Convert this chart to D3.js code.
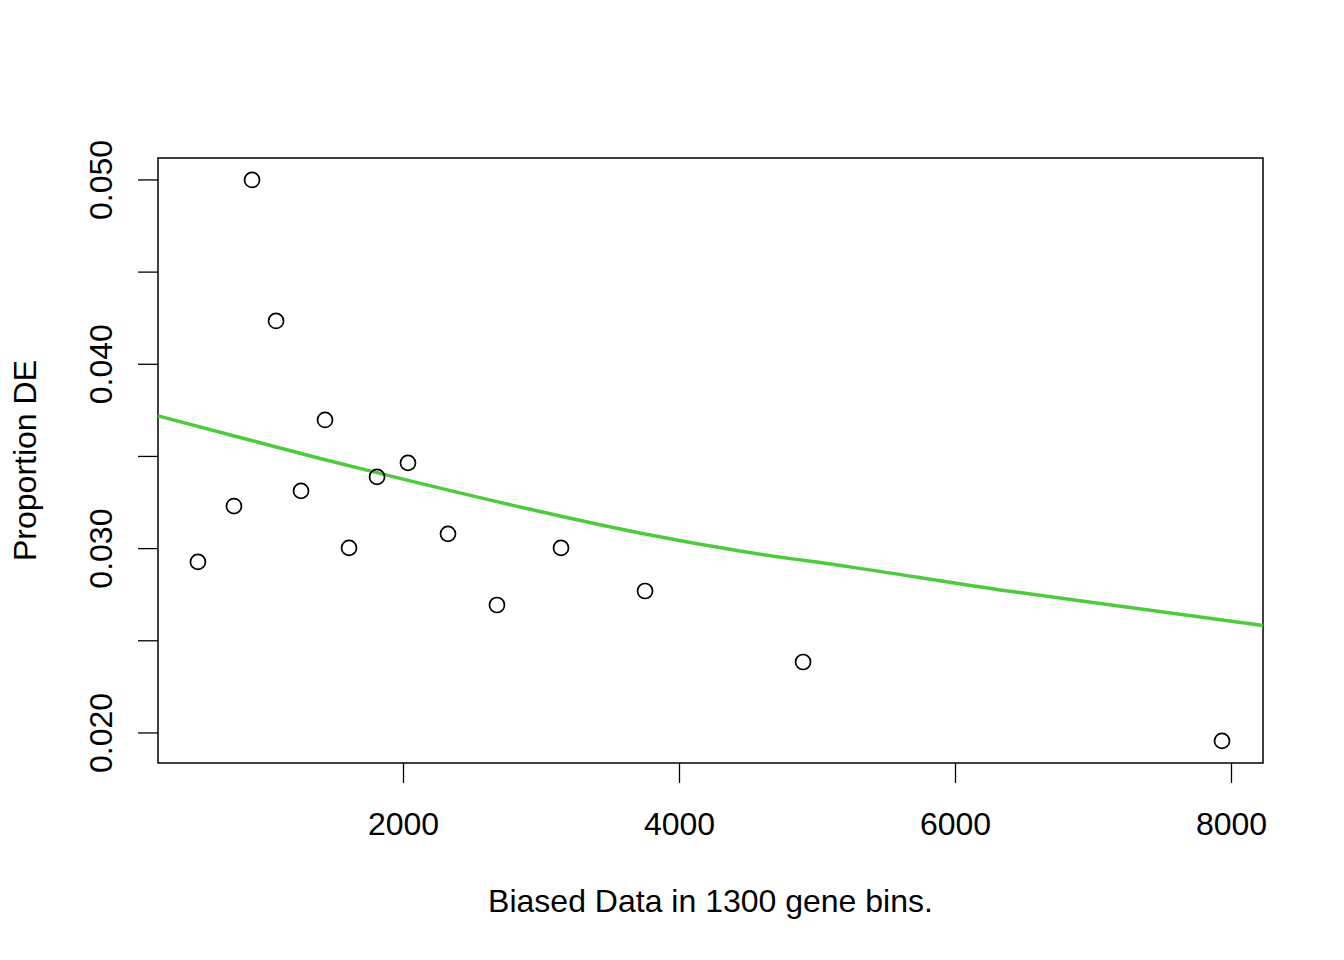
<!DOCTYPE html>
<html><head><meta charset="utf-8">
<script src="https://cdn.jsdelivr.net/npm/d3@7"></script>
<style>body{margin:0;background:#fff}svg{display:block}text{font-family:"Liberation Sans",Arial,sans-serif;fill:#000}</style>
</head><body>
<script>
const binX = [514, 775, 906, 1080, 1261, 1435, 1609, 1812, 2036, 2326, 2681, 3145, 3754, 4899, 7935];
const propDE = [0.02928, 0.03231, 0.0500, 0.04235, 0.03313, 0.03698, 0.03004, 0.03389, 0.03465, 0.03080, 0.02694, 0.03004, 0.02770, 0.02385, 0.01957];
const fitX = [225, 819, 1399, 1978, 2848, 3717, 4442, 5239, 6326, 7268, 8232];
const fitY = [0.03720, 0.03603, 0.03489, 0.03381, 0.03226, 0.03085, 0.02987, 0.02901, 0.02776, 0.02681, 0.02583];
const xTicks = [2000, 4000, 6000, 8000];
const yTicks = [0.020, 0.025, 0.030, 0.035, 0.040, 0.045, 0.050];
const yLabeled = [0.020, 0.030, 0.040, 0.050];
const xTitle = "Biased Data in 1300 gene bins.";
const yTitle = "Proportion DE";

const W = 1344, H = 960;
const L = 158, R = 1263, T = 158, B = 763;
const FS = 32;
const svg = d3.select("body").append("svg").attr("width", W).attr("height", H);
const x = d3.scaleLinear().domain([224.6, 8232]).range([L, R]);
const y = d3.scaleLinear().domain([0.01837, 0.05119]).range([B, T]);

svg.append("rect").attr("x", L).attr("y", T).attr("width", R - L).attr("height", B - T)
  .attr("fill", "none").attr("stroke", "#000").attr("stroke-width", 1.5);

const xa = svg.append("g").attr("transform", `translate(0,${B})`)
  .call(d3.axisBottom(x).tickValues(xTicks).tickSize(20).tickPadding(29).tickFormat(d3.format("d")));
xa.select(".domain").remove();
xa.selectAll("line").attr("stroke-width", 1.3);
xa.selectAll("text").attr("font-size", FS).attr("font-family", "Liberation Sans, Arial, sans-serif");

const ya = svg.append("g").attr("transform", `translate(${L},0)`)
  .call(d3.axisLeft(y).tickValues(yTicks).tickSize(20).tickFormat(d => yLabeled.some(v => Math.abs(v - d) < 1e-9) ? d3.format(".3f")(d) : ""));
ya.select(".domain").remove();
ya.selectAll(".tick").attr("transform", "translate(0,0)");
ya.selectAll(".tick line").attr("stroke-width", 1.3).each(function(d){ d3.select(this).attr("y1", y(d)).attr("y2", y(d)); });
ya.selectAll(".tick text").attr("font-size", FS).attr("font-family", "Liberation Sans, Arial, sans-serif")
  .attr("text-anchor", "middle").attr("x", 0).attr("y", 0).attr("dy", 0)
  .each(function(d){ d3.select(this).attr("transform", `translate(-46,${y(d)}) rotate(-90)`); });

svg.append("path").datum(fitX.map((v, i) => [v, fitY[i]]))
  .attr("d", d3.line().x(d => x(d[0])).y(d => y(d[1])).curve(d3.curveMonotoneX))
  .attr("fill", "none").attr("stroke", "#4ecb3d").attr("stroke-width", 3.5);

svg.selectAll("circle.pt").data(binX.map((v, i) => [v, propDE[i]])).enter().append("circle")
  .attr("class", "pt").attr("cx", d => x(d[0])).attr("cy", d => y(d[1])).attr("r", 7.5)
  .attr("fill", "none").attr("stroke", "#000").attr("stroke-width", 1.7);

svg.append("text").attr("x", (L + R) / 2).attr("y", 912).attr("text-anchor", "middle")
  .attr("font-size", FS).text(xTitle);
svg.append("text").attr("transform", `translate(36,${(T + B) / 2}) rotate(-90)`).attr("text-anchor", "middle")
  .attr("font-size", FS).text(yTitle);
</script>
</body></html>
